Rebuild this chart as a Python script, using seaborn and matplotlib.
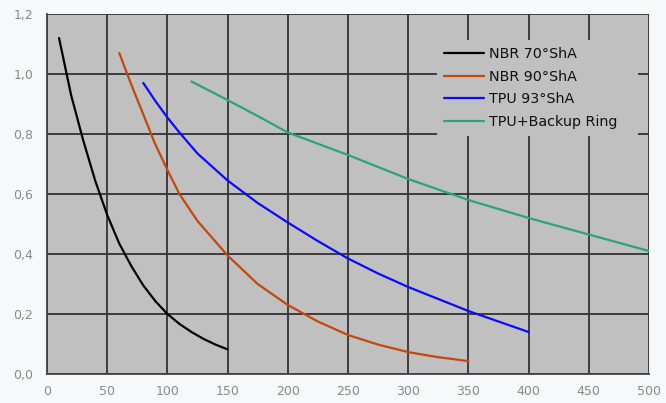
import numpy as np
import pandas as pd
import matplotlib
matplotlib.use("Agg")
import matplotlib.pyplot as plt
from matplotlib.ticker import FuncFormatter
import seaborn as sns

series_names = ["NBR 70°ShA", "NBR 90°ShA", "TPU 93°ShA", "TPU+Backup Ring"]

nbr70_x = [10, 20, 30, 40, 50, 60, 70, 80, 90, 100, 110, 120, 130, 140, 150]
nbr70_y = [1.12, 0.93, 0.78, 0.645, 0.53, 0.435, 0.36, 0.295, 0.243, 0.20, 0.167, 0.14, 0.117, 0.098, 0.082]

nbr90_x = [60, 70, 80, 90, 100, 110, 125, 150, 175, 200, 225, 250, 275, 300, 325, 350]
nbr90_y = [1.07, 0.965, 0.865, 0.765, 0.68, 0.60, 0.51, 0.395, 0.30, 0.23, 0.175, 0.13, 0.098, 0.073, 0.056, 0.043]

tpu_x = [80, 90, 100, 110, 125, 150, 175, 200, 225, 250, 275, 300, 325, 350, 375, 400]
tpu_y = [0.97, 0.91, 0.855, 0.805, 0.735, 0.645, 0.57, 0.505, 0.443, 0.385, 0.335, 0.29, 0.25, 0.21, 0.175, 0.14]

ring_x = [120, 150, 175, 200, 250, 300, 350, 400, 450, 500]
ring_y = [0.975, 0.913, 0.86, 0.805, 0.73, 0.65, 0.58, 0.52, 0.465, 0.41]

x_ticks = [0, 50, 100, 150, 200, 250, 300, 350, 400, 450, 500]
y_ticks = [0.0, 0.2, 0.4, 0.6, 0.8, 1.0, 1.2]

colors = ["#000000", "#c4480e", "#0a0aff", "#2aa579"]

frames = []
for name, xs, ys in zip(series_names,
                        [nbr70_x, nbr90_x, tpu_x, ring_x],
                        [nbr70_y, nbr90_y, tpu_y, ring_y]):
    frames.append(pd.DataFrame({"x": xs, "y": ys, "series": name}))
df = pd.concat(frames, ignore_index=True)

sns.set_style("white")
plt.rcParams["font.family"] = ["DejaVu Sans"]

fig = plt.figure(figsize=(6.66, 4.03), dpi=100, facecolor="#f6f8f9")
ax = fig.add_axes([47/666, 1 - 374/403, (649-47)/666, (374-14)/403])
ax.set_facecolor("#c0c0c0")

sns.lineplot(data=df, x="x", y="y", hue="series", palette=colors,
             hue_order=series_names, linewidth=1.6, ax=ax, sort=False,
             estimator=None, zorder=3)

ax.set_xlim(0, 500)
ax.set_ylim(0, 1.2)
ax.set_xticks(x_ticks)
ax.set_yticks(y_ticks)
ax.yaxis.set_major_formatter(FuncFormatter(lambda v, p: f"{v:.1f}".replace(".", ",")))
ax.grid(True, color="#333333", linewidth=1.3, zorder=1)
ax.set_axisbelow(True)
ax.set_xlabel("")
ax.set_ylabel("")
for side in ["top", "right"]:
    ax.spines[side].set_visible(False)
for side in ["left", "bottom"]:
    ax.spines[side].set_color("#444444")
    ax.spines[side].set_linewidth(1.3)
ax.tick_params(axis="both", which="major", length=4, color="#888888",
               labelcolor="#8a8a8a", labelsize=9, direction="out", pad=6)
ax.tick_params(axis="x", pad=4)

leg = ax.legend(loc="upper left", bbox_to_anchor=(0.648, 0.929, 0.334, 0.0),
                mode="expand", borderaxespad=0.0, frameon=True,
                fontsize=10.3, handlelength=2.75, handletextpad=0.35,
                labelspacing=0.62, borderpad=0.5, facecolor="#c0c0c0",
                edgecolor="none", framealpha=1.0)
leg.get_frame().set_linewidth(0)
for t in leg.get_texts():
    t.set_color("#111111")
leg.set_zorder(5)

fig.savefig("out.png", dpi=100, facecolor=fig.get_facecolor())
